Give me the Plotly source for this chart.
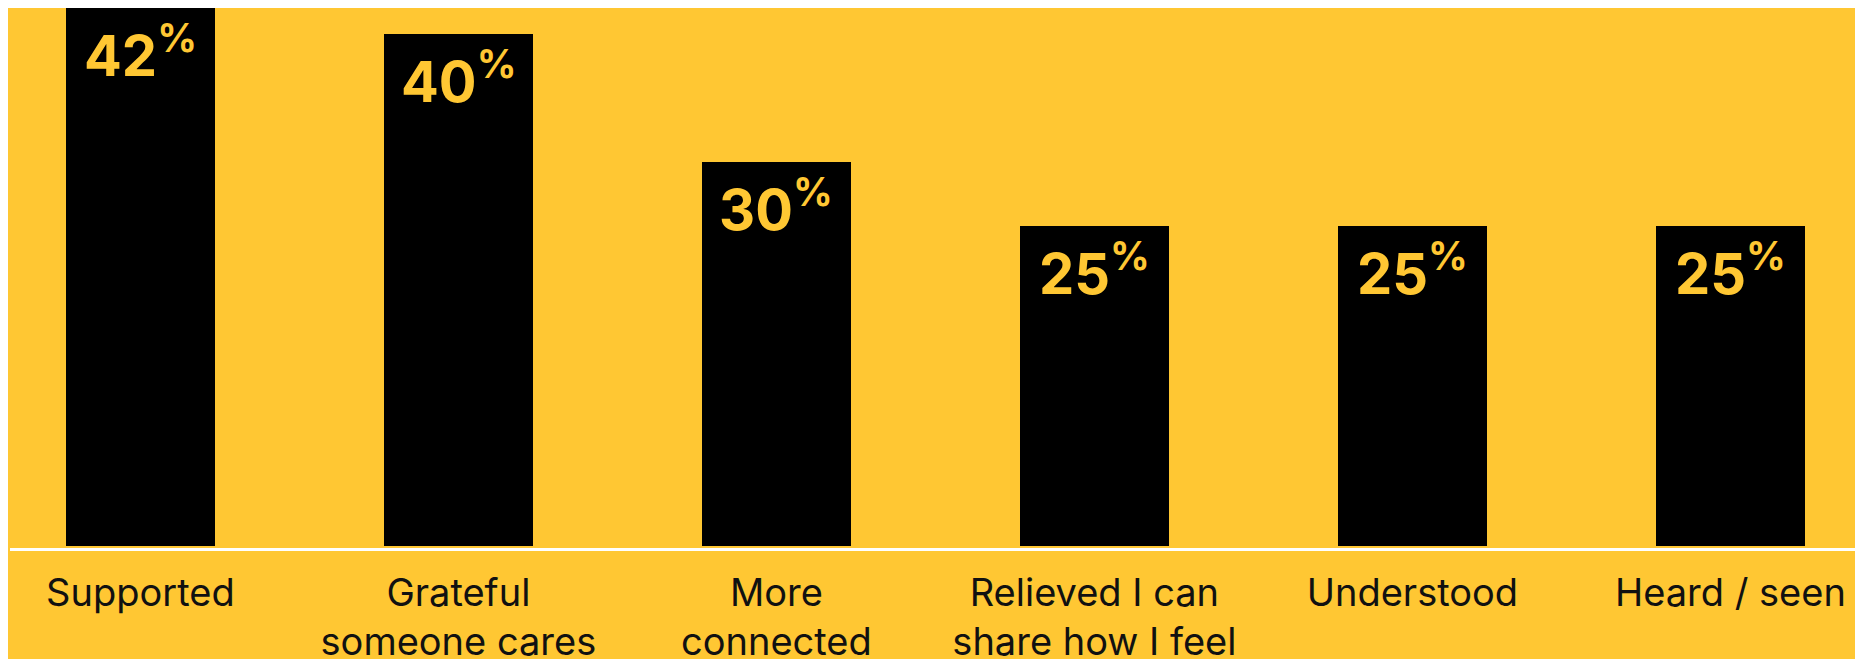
import plotly.graph_objects as go

categories = ["Supported", "Grateful<br>someone cares", "More<br>connected",
              "Relieved I can<br>share how I feel", "Understood", "Heard / seen"]
values = [42, 40, 30, 25, 25, 25]
value_labels = [f"{v}<sup>%</sup>" for v in values]

BG = "#FFC733"
BAR = "#000000"

x_idx = list(range(len(categories)))

fig = go.Figure()
fig.add_trace(go.Bar(
    x=x_idx, y=values, width=0.47,
    marker=dict(color=BAR, line=dict(width=0)),
    hoverinfo="skip",
))

for i, (v, t) in enumerate(zip(values, value_labels)):
    fig.add_annotation(
        x=i, y=v, xref="x", yref="y", text=t, showarrow=False,
        yanchor="top", xanchor="center", yshift=-4,
        font=dict(family="Inter", size=56, color=BG, weight=700),
    )

# page body has an 8px margin, so the figure is sized to fill the remaining window
fig.update_layout(
    width=1855, height=651,
    paper_bgcolor=BG, plot_bgcolor=BG,
    margin=dict(l=2, r=0, t=0, b=111, autoexpand=False),
    showlegend=False,
    bargap=0,
    xaxis=dict(
        range=[-0.41, 5.417],
        tickmode="array", tickvals=x_idx, ticktext=categories,
        showgrid=False, zeroline=False,
        showline=True, linecolor="#FFFFFF", linewidth=3,
        ticks="", ticklabelstandoff=9, automargin=False,
        tickfont=dict(family="Inter", size=38, color="#111111"),
        fixedrange=True,
    ),
    yaxis=dict(
        range=[-0.19, 42], visible=False, showgrid=False, zeroline=False,
        fixedrange=True, automargin=False,
    ),
)

fig.write_html("out.html")
